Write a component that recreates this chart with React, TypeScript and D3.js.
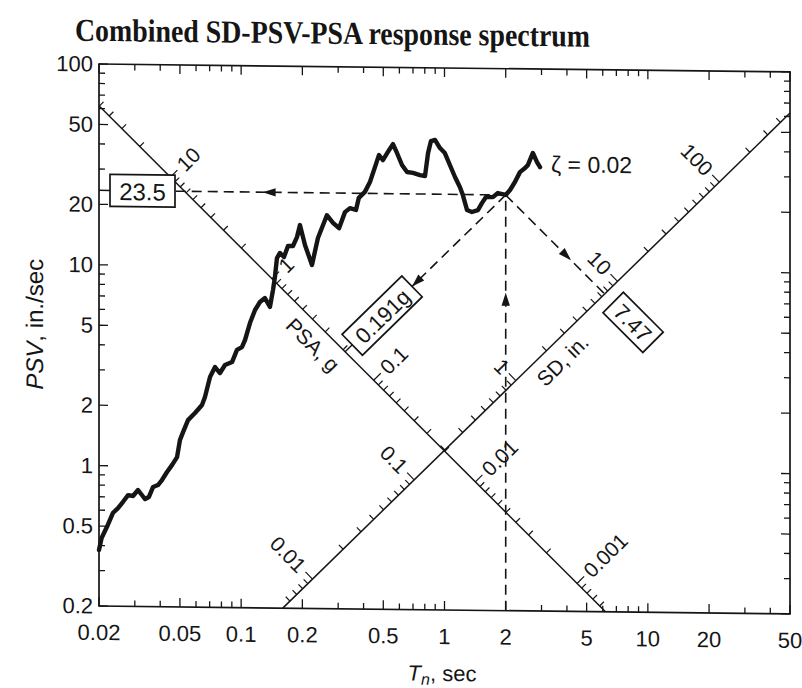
import React from 'react';
import * as d3 from 'd3';

// ---- data ----
const periods = [0.02, 0.0206, 0.0221, 0.0234, 0.0248, 0.0262, 0.0278, 0.0294, 0.0311, 0.0325, 0.0337, 0.0352, 0.0369, 0.039, 0.0408, 0.0432, 0.0457, 0.0484, 0.05, 0.0518, 0.0548, 0.0593, 0.0642, 0.0664, 0.0703, 0.0744, 0.0787, 0.0833, 0.0902, 0.0954, 0.1009, 0.1045, 0.1105, 0.117, 0.1237, 0.1309, 0.1386, 0.1434, 0.1466, 0.15, 0.1552, 0.1624, 0.17, 0.1798, 0.1882, 0.1946, 0.206, 0.223, 0.2386, 0.264, 0.283, 0.303, 0.324, 0.343, 0.367, 0.379, 0.406, 0.43, 0.455, 0.476, 0.498, 0.527, 0.558, 0.584, 0.618, 0.654, 0.7, 0.757, 0.802, 0.83, 0.858, 0.898, 0.95, 1.004, 1.063, 1.126, 1.19, 1.23, 1.29, 1.364, 1.46, 1.53, 1.6, 1.73, 1.83, 2.0, 2.1, 2.22, 2.35, 2.49, 2.57, 2.72, 2.85, 2.95];
const psv = [0.38, 0.436, 0.507, 0.582, 0.616, 0.661, 0.716, 0.709, 0.76, 0.718, 0.686, 0.703, 0.789, 0.807, 0.855, 0.938, 1.016, 1.114, 1.355, 1.486, 1.706, 1.851, 2.032, 2.228, 2.804, 3.145, 2.938, 3.223, 3.337, 3.837, 3.97, 4.305, 5.234, 6.08, 6.67, 6.98, 6.31, 7.66, 8.9, 11.06, 11.73, 11.2, 12.73, 12.73, 14.1, 16.2, 12.9, 10.27, 14.0, 18.2, 16.7, 15.7, 18.9, 19.8, 19.4, 22.3, 23.9, 26.8, 31.8, 36.5, 34.5, 37.9, 41.5, 37.5, 32.7, 30.2, 29.9, 29.2, 28.9, 37.6, 43.2, 43.8, 39.9, 37.7, 32.9, 28.7, 25.6, 23.4, 19.7, 19.25, 19.7, 21.4, 22.9, 22.9, 24.0, 23.5, 24.9, 27.3, 30.6, 32.1, 33.2, 38.2, 34.4, 32.5];

const xTickLabels = ['0.02', '0.05', '0.1', '0.2', '0.5', '1', '2', '5', '10', '20', '50'];
const yTickLabels = ['0.2', '0.5', '1', '2', '5', '10', '20', '50', '100'];
const psaAxisLabels = ['10', '1', '0.1', '0.01', '0.001'];
const sdAxisLabels = ['0.01', '0.1', '1', '10', '100'];

const readPeriod = 2;
const readPSV = 23.5;
const readPSA = 0.191;
const readSD = 7.47;
const psvBoxText = '23.5';
const psaBoxText = '0.191g';
const sdBoxText = '7.47';
const dampingLabel = 'ζ = 0.02';
const title = 'Combined SD-PSV-PSA response spectrum';

// ---- layout ----
const W = 802;
const H = 688;
const M = { left: 99, right: 790, top: 64, bottom: 606 };
const G = 386.4; // in/s^2
const PSA_AXIS_D = 0.197; // constant-SD line that carries the PSA scale (in)
const SD_AXIS_A = 0.0203; // constant-PSA line that carries the SD scale (g)
const SKEW = 0.66; // deg, scan tilt
const SANS = 'Liberation Sans, Arial, Helvetica, sans-serif';
const FS = 22;
const DFS = 21;
const INK = '#151515';

type P2 = [number, number];

function unit(a: P2, b: P2): P2 {
  const dx = b[0] - a[0];
  const dy = b[1] - a[1];
  const l = Math.hypot(dx, dy);
  return [dx / l, dy / l];
}

function Arrow({ tip, dir }: { tip: P2; dir: P2 }) {
  const len = 13;
  const hw = 4.2;
  const bx = tip[0] - dir[0] * len;
  const by = tip[1] - dir[1] * len;
  const nx = -dir[1];
  const ny = dir[0];
  const pts = [tip, [bx + nx * hw, by + ny * hw], [bx - nx * hw, by - ny * hw]]
    .map((p) => p.join(','))
    .join(' ');
  return <polygon points={pts} fill={INK} />;
}

function Box({ c, w, h, angle, text, fs }: { c: P2; w: number; h: number; angle: number; text: string; fs: number }) {
  return (
    <g transform={`translate(${c[0]},${c[1]}) rotate(${angle})`}>
      <rect x={-w / 2} y={-h / 2} width={w} height={h} fill="white" stroke={INK} strokeWidth={1.7} />
      <text x={0} y={1} textAnchor="middle" dominantBaseline="central" fontSize={fs} fontFamily={SANS} fill={INK}>
        {text}
      </text>
    </g>
  );
}

export default function App() {
  const x = d3.scaleLog().domain([0.02, 50]).range([M.left, M.right]);
  const y = d3.scaleLog().domain([0.2, 100]).range([M.bottom, M.top]);
  const pt = (T: number, V: number): P2 => [x(T), y(V)];
  const inside = (T: number, V: number) => T >= 0.02 * 0.999 && T <= 50 * 1.001 && V >= 0.2 * 0.999 && V <= 100 * 1.001;

  // PSA scale lies on a constant-SD line, SD scale on a constant-PSA line
  const cA = 2 * Math.PI * PSA_AXIS_D; // V*T on PSA axis
  const psaPoint = (A: number): [number, number] => {
    const T = 2 * Math.PI * Math.sqrt(PSA_AXIS_D / (A * G));
    return [T, cA / T];
  };
  const kD = (SD_AXIS_A * G) / (2 * Math.PI); // V = kD*T on SD axis
  const sdPoint = (D: number): [number, number] => {
    const T = 2 * Math.PI * Math.sqrt(D / (SD_AXIS_A * G));
    return [T, kD * T];
  };

  const psaStart = pt(0.02, cA / 0.02);
  const psaEnd = pt(cA / 0.2, 0.2);
  const sdStart = pt(0.2 / kD, 0.2);
  const sdEnd = pt(50, 50 * kD);
  const psaDir = unit(psaStart, psaEnd);
  const psaNorm: P2 = [psaDir[1], -psaDir[0]]; // toward upper right
  const sdDir = unit(sdStart, sdEnd);
  const sdNorm: P2 = [sdDir[1], -sdDir[0]]; // toward upper left

  const logValues = (lo: number, hi: number) => {
    const out: { v: number; major: boolean }[] = [];
    for (let e = -5; e <= 4; e++) {
      for (let m = 1; m <= 9; m++) {
        const v = +(m * Math.pow(10, e)).toPrecision(6);
        if (v >= lo * 0.999 && v <= hi * 1.001) out.push({ v, major: m === 1 });
      }
    }
    return out;
  };

  const xTicks = logValues(0.02, 50);
  const yTicks = logValues(0.2, 100);
  const xLab = xTickLabels.map(Number);
  const yLab = yTickLabels.map(Number);
  const isLab = (arr: number[], v: number) => arr.some((a) => Math.abs(a - v) / a < 1e-6);

  const psaTicks = logValues(1e-5, 1e4).filter((t) => {
    const [T, V] = psaPoint(t.v);
    return inside(T, V);
  });
  const sdTicks = logValues(1e-5, 1e4).filter((t) => {
    const [T, V] = sdPoint(t.v);
    return inside(T, V);
  });

  const line = d3
    .line<number>()
    .x((_, i) => x(periods[i]))
    .y((_, i) => y(psv[i]));
  const curvePath = line(psv) || '';

  // reading construction
  const P = pt(readPeriod, readPSV);
  const psvBox = { w: 65, h: 32 };
  const psvBoxLeft = M.left + 11;
  const psvBoxC: P2 = [psvBoxLeft + psvBox.w / 2, P[1]];
  const hArrowTip: P2 = [P[0] + (psvBoxLeft + psvBox.w - P[0]) * 0.735, P[1]];

  const QA = pt(...psaPoint(readPSA));
  const uA = unit(QA, P);
  const psaBox = { w: 84, h: 29 };
  const gapA = 10;
  const psaBoxC: P2 = [QA[0] + uA[0] * (gapA + psaBox.w / 2), QA[1] + uA[1] * (gapA + psaBox.w / 2)];
  const psaBoxEnd: P2 = [QA[0] + uA[0] * (gapA + psaBox.w), QA[1] + uA[1] * (gapA + psaBox.w)];
  const angA = (Math.atan2(uA[1], uA[0]) * 180) / Math.PI;

  const QD = pt(...sdPoint(readSD));
  const vD = unit(P, QD);
  const sdBox = { w: 56, h: 29 };
  const gapD = 12;
  const sdBoxC: P2 = [QD[0] + vD[0] * (gapD + sdBox.w / 2), QD[1] + vD[1] * (gapD + sdBox.w / 2)];
  const angD = (Math.atan2(vD[1], vD[0]) * 180) / Math.PI;
  const dArrowTip: P2 = [P[0] + (QD[0] - P[0]) * 0.66, P[1] + (QD[1] - P[1]) * 0.66];

  const vBottom: P2 = [x(readPeriod), M.bottom];
  const vArrowTip: P2 = [P[0], M.bottom + (P[1] - M.bottom) * 0.765];

  const dash = '10,6';
  const last = periods.length - 1;
  const lastP = pt(periods[last], psv[last]);
  const skewShift = -Math.tan((SKEW * Math.PI) / 180) * M.left;

  return (
    <svg width={W} height={H} style={{ position: 'absolute', left: 0, top: 0, background: 'white' }}>
      <rect x={0} y={0} width={W} height={H} fill="white" />
      <g transform={`translate(0,${skewShift}) skewY(${SKEW})`}>
        <text x={75} y={41} fontFamily="Liberation Serif, Times New Roman, serif" fontWeight="bold" fontSize={32} fill={INK} textLength={515} lengthAdjust="spacingAndGlyphs">
          {title}
        </text>

        {/* frame */}
        <rect x={M.left} y={M.top} width={M.right - M.left} height={M.bottom - M.top} fill="none" stroke={INK} strokeWidth={1.7} />

        {/* x ticks, bottom & top */}
        {xTicks.map((t, i) => {
          const len = isLab(xLab, t.v) ? 9 : 6;
          const xx = x(t.v);
          return (
            <g key={'xt' + i} stroke={INK} strokeWidth={1.3}>
              <line x1={xx} x2={xx} y1={M.bottom} y2={M.bottom - len} />
              <line x1={xx} x2={xx} y1={M.top} y2={M.top + len} />
            </g>
          );
        })}
        {xTickLabels.map((l, i) => (
          <text key={'xl' + i} x={x(+l)} y={640} textAnchor="middle" fontSize={FS} fontFamily={SANS} fill={INK}>
            {l}
          </text>
        ))}
        {/* y ticks, left & right */}
        {yTicks.map((t, i) => {
          const len = isLab(yLab, t.v) ? 9 : 6;
          const yy = y(t.v);
          return (
            <g key={'yt' + i} stroke={INK} strokeWidth={1.3}>
              <line x1={M.left} x2={M.left + len} y1={yy} y2={yy} />
              <line x1={M.right} x2={M.right - len} y1={yy} y2={yy} />
            </g>
          );
        })}
        {yTickLabels.map((l, i) => (
          <text key={'yl' + i} x={M.left - 6} y={y(+l)} textAnchor="end" dominantBaseline="central" fontSize={FS} fontFamily={SANS} fill={INK}>
            {l}
          </text>
        ))}

        {/* axis titles */}
        <text x={442} y={677} textAnchor="middle" fontSize={22} fontFamily={SANS} fill={INK}>
          <tspan fontStyle="italic">T</tspan>
          <tspan fontStyle="italic" fontSize={16} dy={4}>n</tspan>
          <tspan dy={-4}>, sec</tspan>
        </text>
        <text transform="translate(43,325) rotate(-90)" textAnchor="middle" fontSize={24} fontFamily={SANS} fill={INK}>
          <tspan fontStyle="italic">PSV</tspan>
          <tspan>, in./sec</tspan>
        </text>

        {/* PSA diagonal scale */}
        <line x1={psaStart[0]} y1={psaStart[1]} x2={psaEnd[0]} y2={psaEnd[1]} stroke={INK} strokeWidth={1.5} />
        {psaTicks.map((t, i) => {
          const p = pt(...psaPoint(t.v));
          const len = t.major ? 10 : 6;
          return <line key={'pa' + i} x1={p[0]} y1={p[1]} x2={p[0] + psaNorm[0] * len} y2={p[1] + psaNorm[1] * len} stroke={INK} strokeWidth={1.2} />;
        })}
        {psaAxisLabels.map((l, i) => {
          const p = pt(...psaPoint(+l));
          const q: P2 = [p[0] + psaNorm[0] * 14, p[1] + psaNorm[1] * 14];
          return (
            <text key={'pal' + i} transform={`translate(${q[0]},${q[1]}) rotate(-45)`} textAnchor="start" dominantBaseline="central" fontSize={DFS} fontFamily={SANS} fill={INK}>
              {l}
            </text>
          );
        })}
        {(() => {
          const p = pt(0.26, cA / 0.26);
          const q: P2 = [p[0] - psaNorm[0] * 18, p[1] - psaNorm[1] * 18];
          return (
            <text transform={`translate(${q[0]},${q[1]}) rotate(45)`} textAnchor="middle" dominantBaseline="central" fontSize={21} fontFamily={SANS} fill={INK}>
              PSA, g
            </text>
          );
        })()}

        {/* SD diagonal scale */}
        <line x1={sdStart[0]} y1={sdStart[1]} x2={sdEnd[0]} y2={sdEnd[1]} stroke={INK} strokeWidth={1.5} />
        {sdTicks.map((t, i) => {
          const p = pt(...sdPoint(t.v));
          const len = t.major ? 10 : 6;
          return <line key={'sa' + i} x1={p[0]} y1={p[1]} x2={p[0] + sdNorm[0] * len} y2={p[1] + sdNorm[1] * len} stroke={INK} strokeWidth={1.2} />;
        })}
        {sdAxisLabels.map((l, i) => {
          const p = pt(...sdPoint(+l));
          const q: P2 = [p[0] + sdNorm[0] * 14, p[1] + sdNorm[1] * 14];
          return (
            <text key={'sal' + i} transform={`translate(${q[0]},${q[1]}) rotate(45)`} textAnchor="end" dominantBaseline="central" fontSize={DFS} fontFamily={SANS} fill={INK}>
              {l}
            </text>
          );
        })}
        {(() => {
          const p = pt(3.3, kD * 3.3);
          const q: P2 = [p[0] - sdNorm[0] * 18, p[1] - sdNorm[1] * 18];
          return (
            <text transform={`translate(${q[0]},${q[1]}) rotate(-45)`} textAnchor="middle" dominantBaseline="central" fontSize={21} fontFamily={SANS} fill={INK}>
              SD, in.
            </text>
          );
        })()}

        {/* reading construction */}
        <g stroke={INK} strokeWidth={1.6} strokeDasharray={dash} fill="none">
          <line x1={P[0]} y1={P[1]} x2={psvBoxLeft + psvBox.w} y2={P[1]} />
          <line x1={P[0]} y1={P[1]} x2={psaBoxEnd[0]} y2={psaBoxEnd[1]} />
          <line x1={P[0]} y1={P[1]} x2={QD[0]} y2={QD[1]} />
          <line x1={vBottom[0]} y1={vBottom[1]} x2={P[0]} y2={P[1]} />
        </g>
        <line x1={M.left} y1={P[1]} x2={psvBoxLeft} y2={P[1]} stroke={INK} strokeWidth={1.4} />
        <line x1={QA[0]} y1={QA[1]} x2={QA[0] + uA[0] * gapA} y2={QA[1] + uA[1] * gapA} stroke={INK} strokeWidth={1.4} />
        <Arrow tip={hArrowTip} dir={[-1, 0]} />
        <Arrow tip={psaBoxEnd} dir={[-uA[0], -uA[1]]} />
        <Arrow tip={dArrowTip} dir={vD} />
        <Arrow tip={vArrowTip} dir={[0, -1]} />
        <Box c={psvBoxC} w={psvBox.w} h={psvBox.h} angle={0} text={psvBoxText} fs={24} />
        <Box c={psaBoxC} w={psaBox.w} h={psaBox.h} angle={angA} text={psaBoxText} fs={22} />
        <Box c={sdBoxC} w={sdBox.w} h={sdBox.h} angle={angD} text={sdBoxText} fs={22} />

        {/* spectrum */}
        <path d={curvePath} fill="none" stroke={INK} strokeWidth={4.4} strokeLinejoin="round" strokeLinecap="round" />
        <text x={lastP[0] + 11} y={lastP[1] - 3} dominantBaseline="central" fontSize={23} fontFamily={SANS} fill={INK}>
          {dampingLabel}
        </text>
      </g>
    </svg>
  );
}
